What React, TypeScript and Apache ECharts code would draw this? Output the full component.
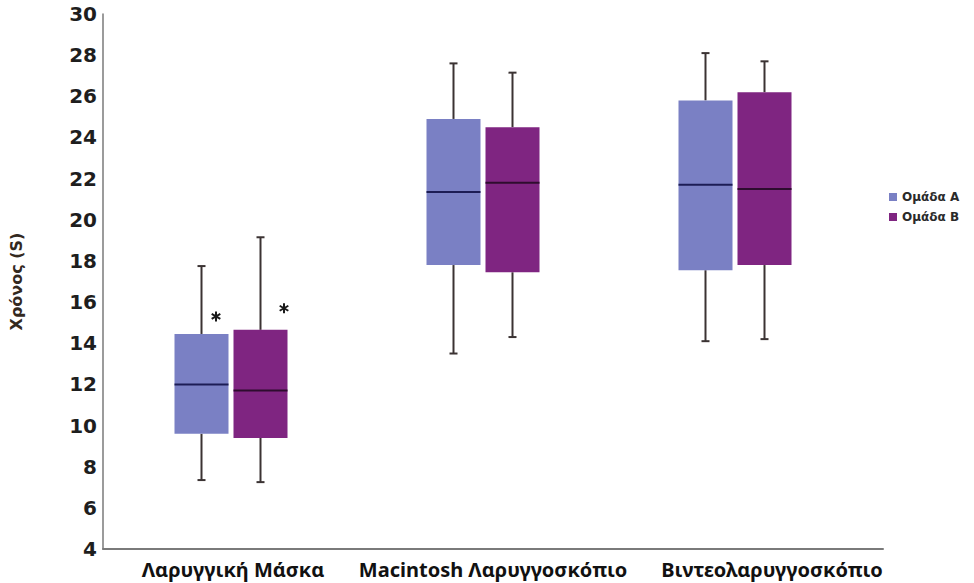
import React, { useEffect, useRef } from "react";
import * as echarts from "echarts";

const categories = ["Λαρυγγική Μάσκα", "Macintosh Λαρυγγοσκόπιο", "Βιντεολαρυγγοσκόπιο"];
const seriesNames = ["Ομάδα Α", "Ομάδα Β"];

// Group A: min, Q1, median, Q3, max per category
const aLow = [7.35, 13.5, 14.1];
const aQ1 = [9.6, 17.8, 17.55];
const aMed = [12.0, 21.35, 21.7];
const aQ3 = [14.45, 24.9, 25.8];
const aHigh = [17.75, 27.6, 28.1];

// Group B
const bLow = [7.25, 14.3, 14.2];
const bQ1 = [9.4, 17.45, 17.8];
const bMed = [11.7, 21.8, 21.5];
const bQ3 = [14.65, 24.5, 26.2];
const bHigh = [19.15, 27.15, 27.7];

// Extreme values (asterisks)
const aOutlier = [15.3, null, null];
const bOutlier = [15.7, null, null];

const yMin = 4;
const yMax = 30;
const yStep = 2;

const COLOR_A = "#7a80c4";
const COLOR_B = "#7f2581";
const MEDIAN_A = "#1c1c55";
const MEDIAN_B = "#2e0c2e";
const WHISKER = "#3b3333";
const FONT = "DejaVu Sans";
const CAT_FONT = "Noto Sans";

function buildRows(lo: number[], q1: number[], med: number[], q3: number[], hi: number[]) {
  return categories.map((_, i) => [i, lo[i], q1[i], med[i], q3[i], hi[i]]);
}

function boxRenderer(offset: number, halfWidth: number, medianColor: string) {
  return (params: any, api: any) => {
    const cat = api.value(0);
    const pLo = api.coord([cat, api.value(1)]);
    const pQ1 = api.coord([cat, api.value(2)]);
    const pMed = api.coord([cat, api.value(3)]);
    const pQ3 = api.coord([cat, api.value(4)]);
    const pHi = api.coord([cat, api.value(5)]);
    const x = pLo[0] + offset;
    const fill = api.visual("color");
    const ws = { stroke: WHISKER, lineWidth: 2 };
    const cap = 4;
    return {
      type: "group",
      children: [
        { type: "line", shape: { x1: x, y1: pHi[1], x2: x, y2: pQ3[1] }, style: ws },
        { type: "line", shape: { x1: x, y1: pQ1[1], x2: x, y2: pLo[1] }, style: ws },
        { type: "line", shape: { x1: x - cap, y1: pHi[1], x2: x + cap, y2: pHi[1] }, style: ws },
        { type: "line", shape: { x1: x - cap, y1: pLo[1], x2: x + cap, y2: pLo[1] }, style: ws },
        {
          type: "rect",
          shape: { x: x - halfWidth, y: pQ3[1], width: halfWidth * 2, height: pQ1[1] - pQ3[1] },
          style: { fill },
        },
        {
          type: "line",
          shape: { x1: x - halfWidth, y1: pMed[1], x2: x + halfWidth, y2: pMed[1] },
          style: { stroke: medianColor, lineWidth: 2 },
        },
      ],
    };
  };
}

function starRenderer(offset: number) {
  return (params: any, api: any) => {
    const v = api.value(1);
    if (v == null || isNaN(v)) return null;
    const p = api.coord([api.value(0), v]);
    const cx = p[0] + offset;
    const cy = p[1];
    const r = 5;
    const st = { stroke: "#1a1a1a", lineWidth: 2 };
    const kids: any[] = [];
    [90, 30, 150].forEach((deg) => {
      const a = (deg * Math.PI) / 180;
      kids.push({
        type: "line",
        shape: { x1: cx - r * Math.cos(a), y1: cy - r * Math.sin(a), x2: cx + r * Math.cos(a), y2: cy + r * Math.sin(a) },
        style: st,
      });
    });
    return { type: "group", children: kids };
  };
}

export default function App() {
  const ref = useRef<HTMLDivElement>(null);
  useEffect(() => {
    if (!ref.current) return;
    const chart = echarts.init(ref.current, null, { renderer: "svg" });
    const rowsA = buildRows(aLow, aQ1, aMed, aQ3, aHigh);
    const rowsB = buildRows(bLow, bQ1, bMed, bQ3, bHigh);
    const outA = categories.map((_, i) => [i, aOutlier[i]]);
    const outB = categories.map((_, i) => [i, bOutlier[i]]);
    const gridTop = 14;
    const gridHeight = 535;
    const catLabel = { fontFamily: CAT_FONT, fontWeight: "bold", fontSize: 20, color: "#111" };
    chart.setOption({
      animation: false,
      backgroundColor: "#ffffff",
      textStyle: { fontFamily: FONT },
      legend: {
        orient: "vertical",
        left: 884,
        top: 185,
        itemWidth: 8,
        itemHeight: 8,
        itemGap: 6,
        icon: "rect",
        data: seriesNames,
        textStyle: { fontFamily: FONT, fontWeight: "bold", fontSize: 12, color: "#2a2a2a", lineHeight: 14 },
      },
      grid: [
        { left: 97, top: gridTop, width: 786, height: gridHeight },
        { left: 105, top: gridTop, width: 756, height: gridHeight },
      ],
      xAxis: [
        {
          type: "category",
          gridIndex: 0,
          data: categories,
          boundaryGap: true,
          axisLine: { lineStyle: { color: "#7a7a7a", width: 2 } },
          axisTick: { show: false },
          axisLabel: {
            ...catLabel,
            margin: 10,
            interval: 0,
            formatter: (v: string, i: number) => (i === 2 ? `{r|${v}}` : `{n|${v}}`),
            rich: {
              n: { ...catLabel },
              r: { ...catLabel, padding: [0, 0, 0, 38] },
            },
          },
        },
        {
          type: "category",
          gridIndex: 1,
          data: categories,
          boundaryGap: true,
          show: false,
        },
      ],
      yAxis: [
        {
          type: "value",
          gridIndex: 0,
          min: yMin,
          max: yMax,
          interval: yStep,
          name: "Χρόνος (S)",
          nameLocation: "middle",
          nameRotate: 90,
          nameGap: 79,
          nameTextStyle: { fontFamily: FONT, fontWeight: "bold", fontSize: 16, color: "#33291f" },
          axisLine: { show: true, lineStyle: { color: "#7a7a7a", width: 1.5 } },
          axisTick: { show: false },
          splitLine: { show: false },
          axisLabel: { fontFamily: FONT, fontWeight: "bold", fontSize: 20, color: "#1e1e1e", margin: 6 },
        },
        {
          type: "value",
          gridIndex: 1,
          min: yMin,
          max: yMax,
          interval: yStep,
          show: false,
          splitLine: { show: false },
        },
      ],
      series: [
        {
          name: seriesNames[0],
          type: "custom",
          xAxisIndex: 1,
          yAxisIndex: 1,
          itemStyle: { color: COLOR_A },
          encode: { x: 0, y: [1, 2, 3, 4, 5] },
          renderItem: boxRenderer(-29.5, 27, MEDIAN_A),
          data: rowsA,
        },
        {
          name: seriesNames[1],
          type: "custom",
          xAxisIndex: 1,
          yAxisIndex: 1,
          itemStyle: { color: COLOR_B },
          encode: { x: 0, y: [1, 2, 3, 4, 5] },
          renderItem: boxRenderer(29.5, 27, MEDIAN_B),
          data: rowsB,
        },
        {
          name: "outA",
          type: "custom",
          xAxisIndex: 1,
          yAxisIndex: 1,
          encode: { x: 0, y: 1 },
          renderItem: starRenderer(-15),
          data: outA,
        },
        {
          name: "outB",
          type: "custom",
          xAxisIndex: 1,
          yAxisIndex: 1,
          encode: { x: 0, y: 1 },
          renderItem: starRenderer(53),
          data: outB,
        },
      ],
    });
    return () => chart.dispose();
  }, []);
  return <div ref={ref} style={{ position: "absolute", left: 0, top: 0, width: 974, height: 583 }} />;
}
